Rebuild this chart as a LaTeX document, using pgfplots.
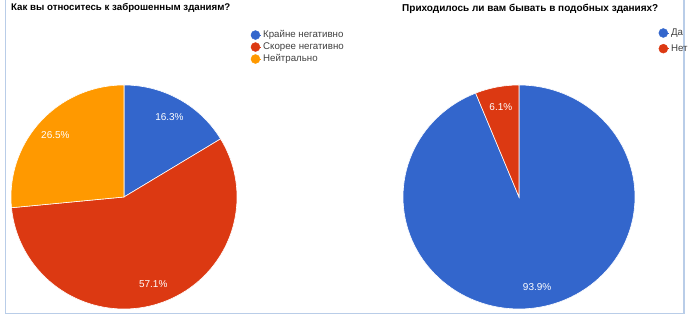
\documentclass[border=0pt]{standalone}
\usepackage{fontspec}
\setmainfont{Liberation Sans}
\usepackage{pgfplots}
\pgfplotsset{compat=1.18}
\definecolor{gblue}{HTML}{3366CC}
\definecolor{gred}{HTML}{DC3912}
\definecolor{gorange}{HTML}{FF9900}
\definecolor{framec}{RGB}{185,205,232}
\newcommand\labfont{\fontsize{10}{12}\selectfont}
% #1 cumulative share before slice, #2 share, #3 total, #4 colour
\newcommand\pieslice[4]{%
  \pgfmathsetmacro\sa{90-(#1)/(#3)*360}%
  \pgfmathsetmacro\ea{90-((#1)+(#2))/(#3)*360}%
  \pgfmathsetmacro\ma{(\sa+\ea)/2}%
  \edef\tmp{\noexpand\addplot[forget plot, fill=#4, draw=white, line width=0.6pt, domain=\sa:\ea, samples=120, variable=\noexpand\t] ({cos(\noexpand\t)},{sin(\noexpand\t)}) -- (axis cs:0,0) -- cycle;}%
  \tmp
  \edef\tmp{\noexpand\node[text=white, font=\noexpand\labfont] at (axis cs:{0.82*cos(\ma)},{0.82*sin(\ma)}) {#2\noexpand\%};}%
  \tmp
}
\pgfplotsset{
  pie/.style={scale only axis, hide axis, clip=false,
    xmin=-1, xmax=1, ymin=-1, ymax=1, anchor=center,
    legend cell align=left,
    legend image code/.code={\fill[##1] (4.5pt,0pt) circle (4.5pt); \path (0pt,0pt) -- (10.5pt,0pt);},
    legend style={draw=none, fill=none, inner sep=0pt, anchor=north west,
      font=\fontsize{9.7}{11}\selectfont, text=black!75,
      nodes={inner sep=1.5pt}}},
}
\begin{document}
\begin{tikzpicture}[x=1pt,y=1pt]
\useasboundingbox (0,0) rectangle (693,320);
\draw[framec, line width=1.3pt] (5.5,321) -- (5.5,6.5) -- (684,6.5) -- (684,321);
\node[anchor=west, inner sep=0pt, font=\bfseries\fontsize{9.7}{12}\selectfont] at (11,312) {Как вы относитесь к заброшенным зданиям?};
\node[anchor=west, inner sep=0pt, font=\bfseries\fontsize{10}{12}\selectfont] at (402,311) {Приходилось ли вам бывать в подобных зданиях?};

\begin{axis}[pie, at={(124pt,123pt)}, width=226pt, height=224pt,
  legend style={at={(axis description cs:1.06,1.25)}, row sep=0.5pt}]
  \pieslice{0}{16.3}{99.9}{gblue}
  \pieslice{16.3}{57.1}{99.9}{gred}
  \pieslice{73.4}{26.5}{99.9}{gorange}
  \addlegendimage{gblue}\addlegendentry{Крайне негативно}
  \addlegendimage{gred}\addlegendentry{Скорее негативно}
  \addlegendimage{gorange}\addlegendentry{Нейтрально}
\end{axis}

\begin{axis}[pie, at={(519pt,123pt)}, width=232pt, height=224pt,
  legend style={at={(axis description cs:1.101,1.258)}, row sep=4.5pt}]
  \pieslice{0}{93.9}{100}{gblue}
  \pieslice{93.9}{6.1}{100}{gred}
  \addlegendimage{gblue}\addlegendentry{Да}
  \addlegendimage{gred}\addlegendentry{Нет}
\end{axis}
\end{tikzpicture}
\end{document}
